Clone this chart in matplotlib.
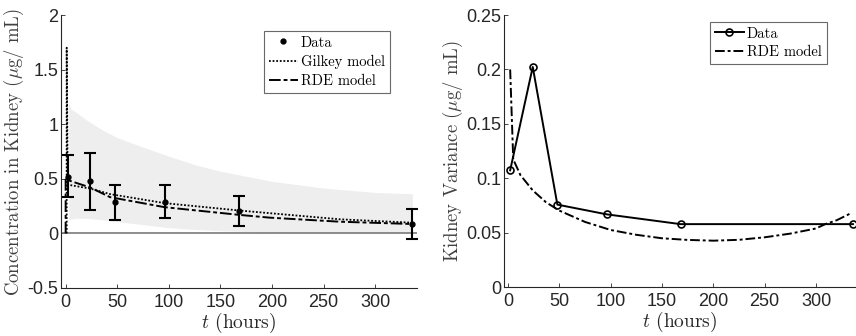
import matplotlib
matplotlib.use("Agg")
import matplotlib.pyplot as plt
import numpy as np

# ---------------- data ----------------
t_data = [2, 24, 48, 96, 168, 336]
conc_mean = [0.52, 0.476, 0.283, 0.292, 0.206, 0.086]
conc_low = [0.33, 0.215, 0.123, 0.138, 0.065, -0.052]
conc_high = [0.717, 0.738, 0.443, 0.443, 0.347, 0.227]

band_t = [3, 5, 10, 20, 35, 50, 75, 100, 125, 150, 200, 250, 300, 336]
band_upper = [1.2, 1.14, 1.11, 1.04, 0.95, 0.877, 0.79, 0.707, 0.63, 0.569, 0.477, 0.415, 0.375, 0.363]
band_lower = [0.123, 0.13, 0.138, 0.138, 0.125, 0.108, 0.08, 0.052, 0.036, 0.024, 0.01, 0.004, 0.002, 0.002]

gilkey_t = [1, 1, 2, 4, 24, 43, 96, 169, 198, 266, 336]
gilkey_v = [0, 1.7, 0.45, 0.443, 0.41, 0.36, 0.277, 0.209, 0.185, 0.129, 0.098]

rde_t = [0, 0, 3, 24, 43, 96, 169, 198, 266, 336]
rde_v = [0, 0.5, 0.485, 0.42, 0.332, 0.24, 0.169, 0.144, 0.107, 0.086]

var_data = [0.1074, 0.2023, 0.0759, 0.067, 0.058, 0.058]
var_rde_t = [2, 2, 5, 12, 24, 37, 50, 75, 100, 125, 150, 175, 200, 225, 250, 275, 300, 309, 320, 334]
var_rde_v = [0.2, 0.2, 0.1175, 0.103, 0.089, 0.078, 0.0704, 0.06, 0.0526, 0.0482, 0.045,
             0.0435, 0.0428, 0.0436, 0.0459, 0.0493, 0.054, 0.058, 0.0615, 0.068]

x_ticks = [0, 50, 100, 150, 200, 250, 300]
left_yticks = [-0.5, 0, 0.5, 1, 1.5, 2]
left_yticklabels = ["-0.5", "0", "0.5", "1", "1.5", "2"]
right_yticks = [0, 0.05, 0.1, 0.15, 0.2, 0.25]
right_yticklabels = ["0", "0.05", "0.1", "0.15", "0.2", "0.25"]

# ---------------- style ----------------
plt.rcParams['mathtext.fontset'] = 'cm'
plt.rcParams['axes.unicode_minus'] = False
serif = 'cmr10'
tick_font = 'Liberation Sans'
spine_col = '#262626'
label_size = 13.5
tick_size = 13

fig = plt.figure(figsize=(8.56, 3.36), dpi=100)
ax1 = fig.add_axes([61/856, 1-288/336, (417-61)/856, (288-15)/336])
ax2 = fig.add_axes([504/856, 1-287.3/336, (855-504)/856, (287.3-15)/336])

def style(ax):
    for s in ['top', 'right']:
        ax.spines[s].set_visible(False)
    for s in ['left', 'bottom']:
        ax.spines[s].set_color(spine_col)
        ax.spines[s].set_linewidth(0.8)
    ax.tick_params(direction='in', length=3, width=0.6, colors=spine_col,
                   labelsize=tick_size, pad=2)
    ax.tick_params(axis='x', pad=4)
    for lab in ax.get_xticklabels() + ax.get_yticklabels():
        lab.set_fontfamily(tick_font)

# ---------------- left panel ----------------
ax1.fill_between(band_t, band_lower, band_upper, color='#eeeeee', lw=0, zorder=1)
ax1.axhline(0, color='#7a7a7a', lw=1.2, zorder=2)
ax1.plot(gilkey_t, gilkey_v, color='black', ls=(0, (1, 1)), lw=1.3, zorder=3,
         label='Gilkey model')
ax1.plot(rde_t, rde_v, color='black', ls=(0, (6, 1.5, 2, 1.5)), lw=1.4, zorder=3,
         label='RDE model')
yerr = [np.array(conc_mean) - np.array(conc_low), np.array(conc_high) - np.array(conc_mean)]
ax1.errorbar(t_data, conc_mean, yerr=yerr, fmt='none', ecolor='black', elinewidth=1.5,
             capsize=4, capthick=1.5, zorder=4)
ax1.plot(t_data, conc_mean, 'o', color='black', ms=3.5, zorder=5, label='Data')
ax1.set_xlim(-4.5, 340.5)
ax1.set_ylim(-0.5, 2)
ax1.set_xticks(x_ticks)
ax1.set_yticks(left_yticks)
ax1.set_yticklabels(left_yticklabels)
style(ax1)
ax1.set_xlabel(r'$t$ (hours)', fontfamily=serif, fontsize=14, color=spine_col, labelpad=0)
ax1.set_ylabel(r'Concentration in Kidney ($\mu$g/ mL)', fontfamily=serif, fontsize=label_size,
               color='#404040', labelpad=1)
h, l = ax1.get_legend_handles_labels()
order = [2, 0, 1]
leg1 = ax1.legend([h[i] for i in order], [l[i] for i in order],
                  loc='upper right', bbox_to_anchor=(390/856, 1-30.7/336),
                  bbox_transform=fig.transFigure,
                  prop={'family': serif, 'size': 10.5}, frameon=True, fancybox=False,
                  edgecolor='#444444', handlelength=2.0, handletextpad=0.2,
                  borderpad=0.35, labelspacing=0.35, borderaxespad=0)
leg1.get_frame().set_linewidth(0.8)

# ---------------- right panel ----------------
ax2.plot(t_data, var_data, '-o', color='black', lw=1.4, ms=5, mfc='none', mew=1.2,
         label='Data', zorder=3)
ax2.plot(var_rde_t, var_rde_v, color='black', ls=(0, (5, 1.5, 1.5, 1.5)), lw=1.4,
         label='RDE model', zorder=2)
ax2.set_xlim(-4, 338)
ax2.set_ylim(0, 0.25)
ax2.set_xticks(x_ticks)
ax2.set_yticks(right_yticks)
ax2.set_yticklabels(right_yticklabels)
style(ax2)
ax2.set_xlabel(r'$t$ (hours)', fontfamily=serif, fontsize=14, color=spine_col, labelpad=0)
ax2.set_ylabel(r'Kidney Variance ($\mu$g/ mL)', fontfamily=serif, fontsize=label_size,
               color='#404040', labelpad=1)
leg2 = ax2.legend(loc='upper right', bbox_to_anchor=(826.7/856, 1-21.7/336),
                  bbox_transform=fig.transFigure,
                  prop={'family': serif, 'size': 10.5}, frameon=True, fancybox=False,
                  edgecolor='#444444', handlelength=2.0, handletextpad=0.2,
                  borderpad=0.35, labelspacing=0.35, borderaxespad=0)
leg2.get_frame().set_linewidth(0.8)

fig.savefig('out.png', dpi=100)
